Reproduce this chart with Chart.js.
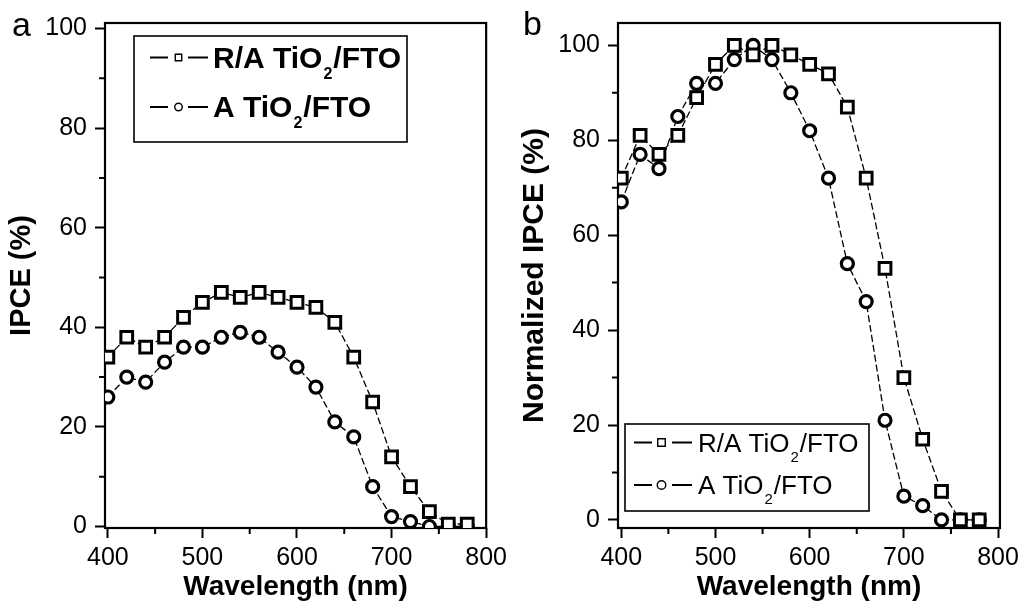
<!DOCTYPE html>
<html>
<head>
<meta charset="utf-8">
<script src="https://cdn.jsdelivr.net/npm/chart.js@4.4.0/dist/chart.umd.min.js"></script>
<style>
  html, body { margin: 0; padding: 0; background: #fff; }
  #wrap { position: relative; width: 1024px; height: 604px; }
  canvas { position: absolute; top: 0; }
  #chartA { left: 0; }
  #chartB { left: 512px; }
</style>
</head>
<body>
<div id="wrap">
  <canvas id="chartA" width="512" height="604"></canvas>
  <canvas id="chartB" width="512" height="604"></canvas>
</div>
<script>
const FONT = '"Liberation Sans", Arial, sans-serif';

// data
const wavelengths = [400, 420, 440, 460, 480, 500, 520, 540, 560, 580, 600, 620, 640, 660, 680, 700, 720, 740, 760, 780];
const ipceRA = [34, 38, 36, 38, 42, 45, 47, 46, 47, 46, 45, 44, 41, 34, 25, 14, 8, 3, 0.5, 0.5];
const ipceA = [26, 30, 29, 33, 36, 36, 38, 39, 38, 35, 32, 28, 21, 18, 8, 2, 1, 0, 0, 0];
const normRA = [72, 81, 77, 81, 89, 96, 100, 98, 100, 98, 96, 94, 87, 72, 53, 30, 17, 6, 0, 0];
const normA = [67, 77, 74, 85, 92, 92, 97, 100, 97, 90, 82, 72, 54, 46, 21, 5, 3, 0, 0, 0];

const xTicks = [400, 500, 600, 700, 800];
const xMinorTicks = [450, 550, 650, 750];
const yTicks = [0, 20, 40, 60, 80, 100];
const yMinorTicks = [10, 30, 50, 70, 90];

const seriesNames = [['R/A TiO', '2', '/FTO'], ['A TiO', '2', '/FTO']];

Chart.defaults.font.family = FONT;
Chart.defaults.color = '#000';

function toPoints(values) {
  return wavelengths.map((w, i) => ({ x: w, y: values[i] }));
}

function seriesStyle(style) {
  const base = {
    showLine: true,
    borderColor: '#000',
    borderWidth: 1.3,
    borderDash: [7, 3],
    pointBackgroundColor: '#fff',
    pointBorderColor: '#000',
  };
  if (style === 'rect') {
    return { ...base, pointStyle: 'rect', pointRadius: 8.3, pointBorderWidth: 3 };
  }
  return { ...base, pointStyle: 'circle', pointRadius: 6, pointBorderWidth: 3.2 };
}

// frame box + minor ticks
const framePlugin = {
  id: 'frame',
  beforeDatasetsDraw(chart) {
    const { ctx, chartArea: a, scales } = chart;
    ctx.save();
    ctx.strokeStyle = '#000';
    ctx.lineWidth = 2.2;
    ctx.strokeRect(a.left, a.top, a.right - a.left, a.bottom - a.top);
    ctx.lineWidth = 2;
    ctx.beginPath();
    xMinorTicks.forEach((v) => {
      const px = scales.x.getPixelForValue(v);
      ctx.moveTo(px, a.bottom);
      ctx.lineTo(px, a.bottom + 6);
    });
    yMinorTicks.forEach((v) => {
      const py = scales.y.getPixelForValue(v);
      ctx.moveTo(a.left - 6, py);
      ctx.lineTo(a.left, py);
    });
    ctx.stroke();
    ctx.restore();
  },
};

// boxed legend with subscripts, plus the panel letter
const boxLegendPlugin = {
  id: 'boxLegend',
  afterDraw(chart, args, opts) {
    const { ctx } = chart;
    ctx.save();
    ctx.fillStyle = '#000';
    ctx.strokeStyle = '#000';

    ctx.font = `${opts.letterSize}px ${FONT}`;
    ctx.textBaseline = 'alphabetic';
    ctx.fillText(opts.letter, opts.letterX, opts.letterY);

    const [bx, by, bw, bh] = opts.box;
    ctx.lineWidth = 1.6;
    ctx.strokeRect(bx, by, bw, bh);

    chart.data.datasets.forEach((ds, i) => {
      const y = opts.rows[i];
      ctx.lineWidth = 1.8;
      ctx.beginPath();
      ctx.moveTo(opts.dash1[0], y);
      ctx.lineTo(opts.dash1[1], y);
      ctx.moveTo(opts.dash2[0], y);
      ctx.lineTo(opts.dash2[1], y);
      ctx.stroke();

      ctx.lineWidth = 1.4;
      ctx.fillStyle = '#fff';
      ctx.beginPath();
      if (ds.pointStyle === 'rect') {
        const s = opts.symbolSize;
        ctx.rect(opts.symbolX - s / 2, y - s / 2, s, s);
      } else {
        ctx.arc(opts.symbolX, y, opts.symbolSize / 2 + 0.5, 0, Math.PI * 2);
      }
      ctx.fill();
      ctx.stroke();

      ctx.fillStyle = '#000';
      const [pre, sub, post] = seriesNames[i];
      let x = opts.textX;
      ctx.font = `${opts.weight} ${opts.textSize}px ${FONT}`;
      ctx.fillText(pre, x, y + opts.baseOffset);
      x += ctx.measureText(pre).width + 1;
      ctx.font = `${opts.weight} ${opts.subSize}px ${FONT}`;
      ctx.fillText(sub, x, y + opts.subOffset);
      x += ctx.measureText(sub).width + 1;
      ctx.font = `${opts.weight} ${opts.textSize}px ${FONT}`;
      ctx.fillText(post, x, y + opts.baseOffset);
    });
    ctx.restore();
  },
};

function makeChart(id, values, axis, legendOpts) {
  const ctx = document.getElementById(id).getContext('2d');
  return new Chart(ctx, {
    type: 'scatter',
    data: {
      datasets: [
        { label: 'R/A TiO2/FTO', data: toPoints(values[0]), ...seriesStyle('rect') },
        { label: 'A TiO2/FTO', data: toPoints(values[1]), ...seriesStyle('circle') },
      ],
    },
    options: {
      responsive: false,
      animation: false,
      devicePixelRatio: 1,
      events: [],
      layout: { padding: axis.padding },
      plugins: {
        legend: { display: false },
        tooltip: { enabled: false },
        boxLegend: legendOpts,
      },
      scales: {
        x: {
          type: 'linear',
          min: axis.xMin,
          max: axis.xMax,
          afterBuildTicks: (s) => { s.ticks = xTicks.map((v) => ({ value: v })); },
          afterFit: (s) => { s.height = axis.xHeight; },
          border: { display: false },
          grid: { drawOnChartArea: false, drawTicks: true, tickLength: 10, tickWidth: 2, tickColor: '#000' },
          ticks: { color: '#000', font: { size: 25 }, padding: 5, maxRotation: 0, autoSkip: false },
          title: {
            display: true,
            text: 'Wavelength (nm)',
            color: '#000',
            font: { size: 28, weight: 'bold' },
            padding: { top: 0, bottom: 0 },
          },
        },
        y: {
          min: axis.yMin,
          max: axis.yMax,
          afterBuildTicks: (s) => { s.ticks = yTicks.map((v) => ({ value: v })); },
          afterFit: (s) => { s.width = axis.yWidth; },
          border: { display: false },
          grid: { drawOnChartArea: false, drawTicks: true, tickLength: 10, tickWidth: 2, tickColor: '#000' },
          ticks: { color: '#000', font: { size: 25 }, padding: 8 },
          title: {
            display: true,
            text: axis.yTitle,
            color: '#000',
            font: { size: axis.yTitleSize, weight: 'bold' },
            padding: { top: 5, bottom: 0 },
          },
        },
      },
    },
    plugins: [framePlugin, boxLegendPlugin],
  });
}

makeChart('chartA', [ipceRA, ipceA], {
  padding: { left: 0, right: 21, top: 18, bottom: 0 },
  xMin: 397, xMax: 800, yMin: -0.3, yMax: 101.1,
  xHeight: 76, yWidth: 105,
  yTitle: 'IPCE (%)', yTitleSize: 29,
}, {
  letter: 'a', letterX: 12, letterY: 36, letterSize: 34,
  box: [134, 36, 273, 106],
  rows: [57.5, 107],
  dash1: [150, 168], dash2: [188, 208], symbolX: 178.5, symbolSize: 6.5,
  textX: 213, weight: 'bold', textSize: 30, subSize: 16, baseOffset: 10, subOffset: 21,
});

makeChart('chartB', [normRA, normA], {
  padding: { left: 0, right: 20, top: 21, bottom: 0 },
  xMin: 396.5, xMax: 802, yMin: -1.7, yMax: 104.7,
  xHeight: 76, yWidth: 106,
  yTitle: 'Normalized IPCE (%)', yTitleSize: 30,
}, {
  letter: 'b', letterX: 11, letterY: 35, letterSize: 34,
  box: [113, 424, 244, 87],
  rows: [442.5, 485],
  dash1: [122, 140], dash2: [160, 180], symbolX: 149.5, symbolSize: 7.5,
  textX: 186, weight: 'normal', textSize: 26, subSize: 15, baseOffset: 9, subOffset: 19,
});
</script>
</body>
</html>
